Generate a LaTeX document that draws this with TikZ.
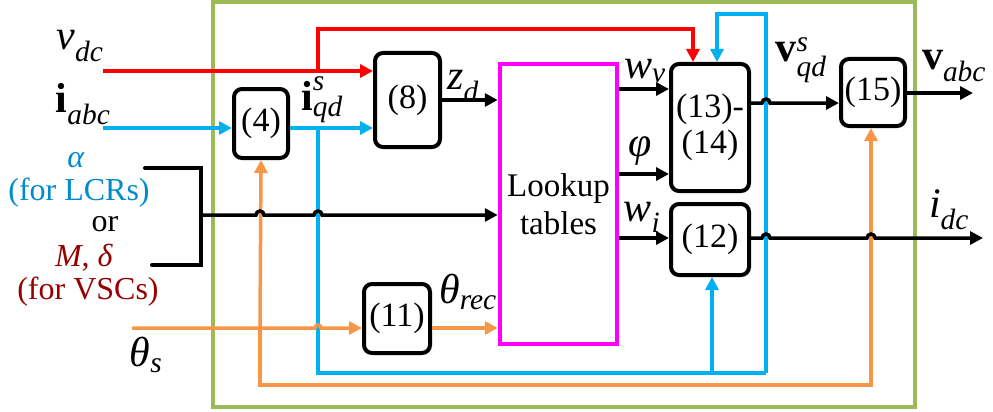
\documentclass[tikz,border=0pt]{standalone}
\usepackage{amsmath}
\usepackage{fontspec}
\setmainfont{LiberationSerif}[Extension=.ttf, UprightFont=*-Regular,
  ItalicFont=*-Italic, BoldFont=*-Bold, BoldItalicFont=*-BoldItalic]
\usetikzlibrary{arrows.meta}
\definecolor{sigblue}{RGB}{0,176,240}
\definecolor{sigorange}{RGB}{247,150,70}
\definecolor{framegreen}{RGB}{155,187,89}
\definecolor{lutpink}{RGB}{255,0,255}
\definecolor{lcrblue}{RGB}{0,140,204}
\definecolor{vscred}{RGB}{150,0,0}
\tikzset{
  eqbox/.style={draw, line width=4pt, rounded corners=8pt, inner sep=0pt,
    font=\fontsize{34}{36}\selectfont, align=center},
  sig/.style={line width=3.5pt, -{Triangle[length=13pt,width=13pt]}},
  lbl/.style={font=\fontsize{42}{44}\selectfont, inner sep=0pt},
  txt/.style={font=\fontsize{32}{34}\selectfont, inner sep=0pt}
}
\begin{document}
\begin{tikzpicture}[x=1pt,y=-1pt]
  \useasboundingbox (0,0) rectangle (993,412);
  % frame
  \draw[framegreen, line width=4pt] (213,2) rectangle (915,407);
  % blocks
  \node[eqbox, minimum width=54pt, minimum height=69pt] (eqfour) at (261,123.5) {(4)};
  \node[eqbox, minimum width=65pt, minimum height=94pt] (eqeight) at (407.5,100) {(8)};
  \node[draw=lutpink, line width=4.5pt, minimum width=117pt, minimum height=280pt,
    font=\fontsize{33}{38}\selectfont, align=center] (lut) at (558.5,204) {Lookup\\tables};
  \node[eqbox, minimum width=78pt, minimum height=127pt] (eqthirteen) at (710,127.5) {(13)-\\(14)};
  \node[eqbox, minimum width=78pt, minimum height=71pt] (eqtwelve) at (710,239.5) {(12)};
  \node[eqbox, minimum width=66pt, minimum height=69pt] (eqeleven) at (397,318.5) {(11)};
  \node[eqbox, minimum width=64pt, minimum height=67pt] (eqfifteen) at (873,92.5) {(15)};
  % free ends
  \coordinate (vdcin) at (103,71);
  \coordinate (iabcin) at (103,128);
  \coordinate (thsin) at (132,328);
  \coordinate (vabcout) at (973,93);
  \coordinate (idcout) at (983,238);
  % v_dc
  \draw[red, sig] (vdcin) -- (eqeight.west |- vdcin);
  \draw[red, sig] (318,71) |- (693,29) -- (693,62);
  % i_abc and i_qd
  \draw[sigblue, sig] (iabcin) -- (eqfour.west |- iabcin);
  \draw[sigblue, sig] (eqfour.east |- iabcin) -- (eqeight.west |- iabcin);
  \draw[sigblue, line width=3.5pt] (318,128) |- (766,373);
  \draw[sigblue, sig] (766,373) |- (717,14) -- (717,62);
  \draw[sigblue, sig] (712,373) -- (eqtwelve.south -| 712,0);
  % theta
  \draw[sigorange, sig] (thsin) -- (315,328) arc[start angle=180,end angle=0,radius=3pt]
    -- (eqeleven.west |- thsin);
  \draw[sigorange, sig] (eqeleven.east |- thsin) -- (lut.west |- thsin);
  \draw[sigorange, sig] (260,328) |- (871,385) -- (eqfifteen.south -| 871,0);
  \draw[sigorange, sig] (260,328) -- (eqfour.south);
  % alpha / M, delta
  \draw[line width=4pt, line cap=round] (145,168) -| (201,265) -- (152,265);
  \draw[sig] (201,215) -- (256,215) arc[start angle=180,end angle=0,radius=4pt]
    -- (314,215) arc[start angle=180,end angle=0,radius=4pt] -- (lut.west |- 0,215);
  % lookup outputs
  \draw[sig] (eqeight.east) -- (lut.west |- eqeight.east);
  \draw[sig] (lut.east |- 0,89) -- (eqthirteen.west |- 0,89);
  \draw[sig] (lut.east |- 0,174) -- (eqthirteen.west |- 0,174);
  \draw[sig] (lut.east |- 0,238) -- (eqtwelve.west |- 0,238);
  \draw[sig] (eqthirteen.east |- 0,103) -- (762,103) arc[start angle=180,end angle=0,radius=4pt]
    -- (eqfifteen.west |- 0,103);
  \draw[sig] (eqfifteen.east |- vabcout) -- (vabcout);
  \draw[sig] (eqtwelve.east |- idcout) -- (762,238) arc[start angle=180,end angle=0,radius=4pt]
    -- (867,238) arc[start angle=180,end angle=0,radius=4pt] -- (idcout);
  % labels
  \node[lbl] (vdclbl) at (80,46) {$\textit{v}_{\textit{dc}}$};
  \node[lbl] (iabclbl) at (83,104) {$\textbf{i}_{\textit{abc}}$};
  \node[txt, lcrblue] (alphalbl) at (76,160) {\textit{α}};
  \node[txt, lcrblue] (lcrlbl) at (79,193) {(for LCRs)};
  \node[txt] (orlbl) at (105,224) {or};
  \node[txt, vscred] (mdlbl) at (84,258) {\textit{M}, \textit{δ}};
  \node[txt, vscred] (vsclbl) at (88,292) {(for VSCs)};
  \node[lbl] (thslbl) at (146,355) {$\textit{θ}_{\textit{s}}$};
  \node[lbl] (iqdlbl) at (322,100) {$\textbf{i}^{\textit{s}}_{\textit{qd}}$};
  \node[lbl] (zdlbl) at (463,86) {$\textit{z}_{\textit{d}}$};
  \node[lbl] (threclbl) at (468,292) {$\textit{θ}_{\textit{rec}}$};
  \node[lbl] (wvlbl) at (645,71) {$\textit{w}_{\textit{v}}$};
  \node[lbl] (philbl) at (640,151) {\textit{φ}};
  \node[lbl] (wilbl) at (642,217) {$\textit{w}_{\textit{i}}$};
  \node[lbl] (vqdlbl) at (801,60) {$\textbf{v}^{\textit{s}}_{\textit{qd}}$};
  \node[lbl] (vabclbl) at (954,66) {$\textbf{v}_{\textit{abc}}$};
  \node[lbl] (idclbl) at (949,210) {$\textit{i}_{\textit{dc}}$};
\end{tikzpicture}
\end{document}
